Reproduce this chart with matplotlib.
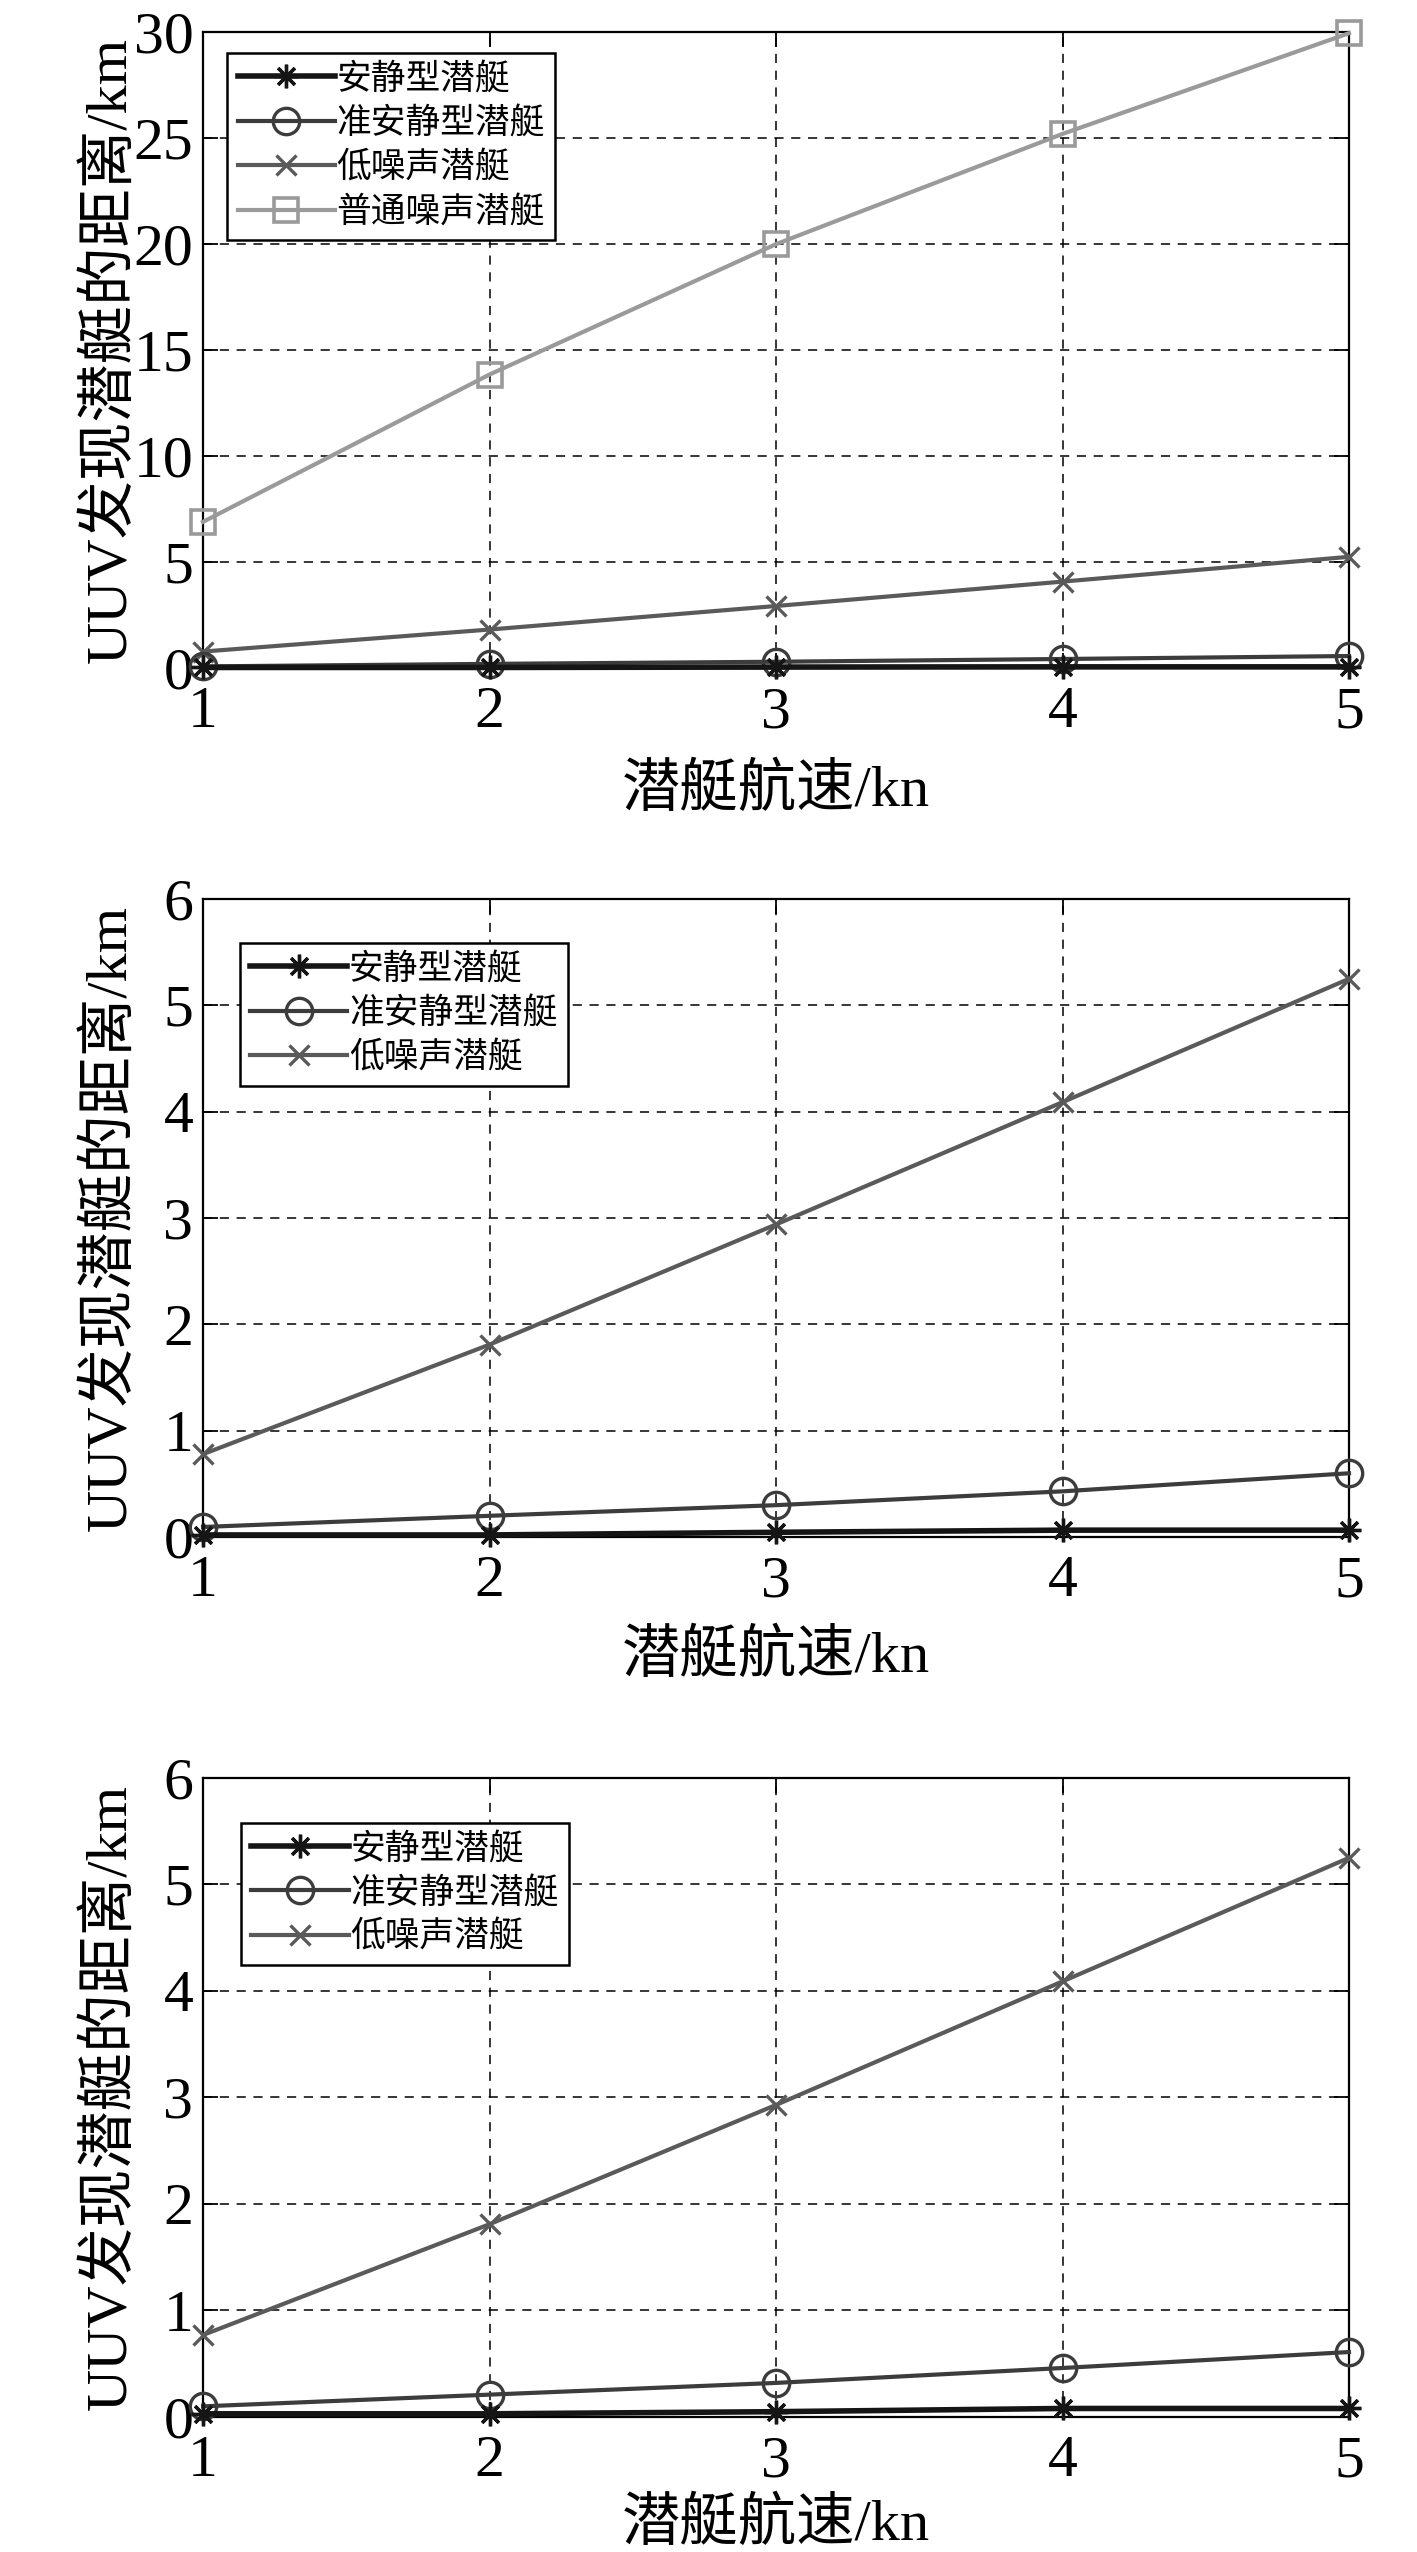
import numpy as np
import matplotlib
matplotlib.use("Agg")
import matplotlib.pyplot as plt

plt.rcParams['font.family'] = ['Liberation Serif', 'Noto Sans CJK SC']
plt.rcParams['axes.unicode_minus'] = False

# speed of the submarine (kn)
speed = [1, 2, 3, 4, 5]

labels = ['安静型潜艇', '准安静型潜艇', '低噪声潜艇', '普通噪声潜艇']

# panel 1
quiet_1 = [0.03, 0.03, 0.05, 0.06, 0.06]
semi_quiet_1 = [0.08, 0.2, 0.3, 0.43, 0.57]
low_noise_1 = [0.78, 1.82, 2.93, 4.08, 5.25]
normal_1 = [6.9, 13.85, 20.0, 25.2, 29.95]

# panel 2
quiet_2 = [0.02, 0.02, 0.045, 0.065, 0.065]
semi_quiet_2 = [0.095, 0.2, 0.3, 0.43, 0.6]
low_noise_2 = [0.78, 1.81, 2.94, 4.09, 5.25]

# panel 3
quiet_3 = [0.03, 0.03, 0.05, 0.08, 0.08]
semi_quiet_3 = [0.1, 0.21, 0.32, 0.46, 0.61]
low_noise_3 = [0.77, 1.81, 2.93, 4.09, 5.25]

ylims = [(0, 30), (0, 6), (0, 6)]
yticks = [[0, 5, 10, 15, 20, 25, 30], [0, 1, 2, 3, 4, 5, 6], [0, 1, 2, 3, 4, 5, 6]]

styles = [
    dict(color='#151515', lw=4.0, marker=(8, 2, 0), ms=17, mew=2.4),
    dict(color='#3c3c3c', lw=3.0, marker='o', ms=19, mfc='none', mew=2.4),
    dict(color='#5a5a5a', lw=3.0, marker='x', ms=15, mew=2.4),
    dict(color='#9a9a9a', lw=3.0, marker='s', ms=17, mfc='none', mew=2.6),
]

fig = plt.figure(figsize=(14.17, 25.52), dpi=100)

# axes boxes in figure fractions
boxes = [
    [0.1433, 0.7382, 0.8087, 0.2492],
    [0.1433, 0.3977, 0.8087, 0.2500],
    [0.1433, 0.0529, 0.8087, 0.2504],
]
legend_pos = [(0.021, 0.967), (0.032, 0.931), (0.033, 0.930)]
xlabel_y = [-0.150, -0.145, -0.126]

panels = [
    [quiet_1, semi_quiet_1, low_noise_1, normal_1],
    [quiet_2, semi_quiet_2, low_noise_2],
    [quiet_3, semi_quiet_3, low_noise_3],
]

for i, series in enumerate(panels):
    ax = fig.add_axes(boxes[i])
    for j, vals in enumerate(series):
        ax.plot(speed, vals, label=labels[j], clip_on=False, zorder=3 + (3 - j), **styles[j])

    ax.set_xlim(1, 5)
    ax.set_ylim(*ylims[i])
    ax.set_xticks(speed)
    ax.set_yticks(yticks[i])
    ax.grid(True, color='black', linestyle=(0, (6, 5)), linewidth=1.1)
    ax.tick_params(direction='in', length=11, width=1.3, top=True, right=True,
                   labelsize=43)
    ax.tick_params(axis='x', pad=13)
    ax.tick_params(axis='y', pad=7)
    for sp in ax.spines.values():
        sp.set_linewidth(1.6)

    ax.set_xlabel('潜艇航速/kn', fontsize=42, va='top')
    ax.xaxis.set_label_coords(0.5, xlabel_y[i])
    ax.set_ylabel('UUV发现潜艇的距离/km', fontsize=42)
    ax.yaxis.set_label_coords(-0.057, 0.5)

    leg = ax.legend(loc='upper left', bbox_to_anchor=legend_pos[i], borderaxespad=0,
                    fontsize=25, fancybox=False, framealpha=1, edgecolor='black',
                    handlelength=2.8, handletextpad=0.05, labelspacing=0.33,
                    borderpad=0.3)
    leg.get_frame().set_linewidth(1.8)
    leg.set_zorder(10)

fig.savefig('out.png', dpi=100)
